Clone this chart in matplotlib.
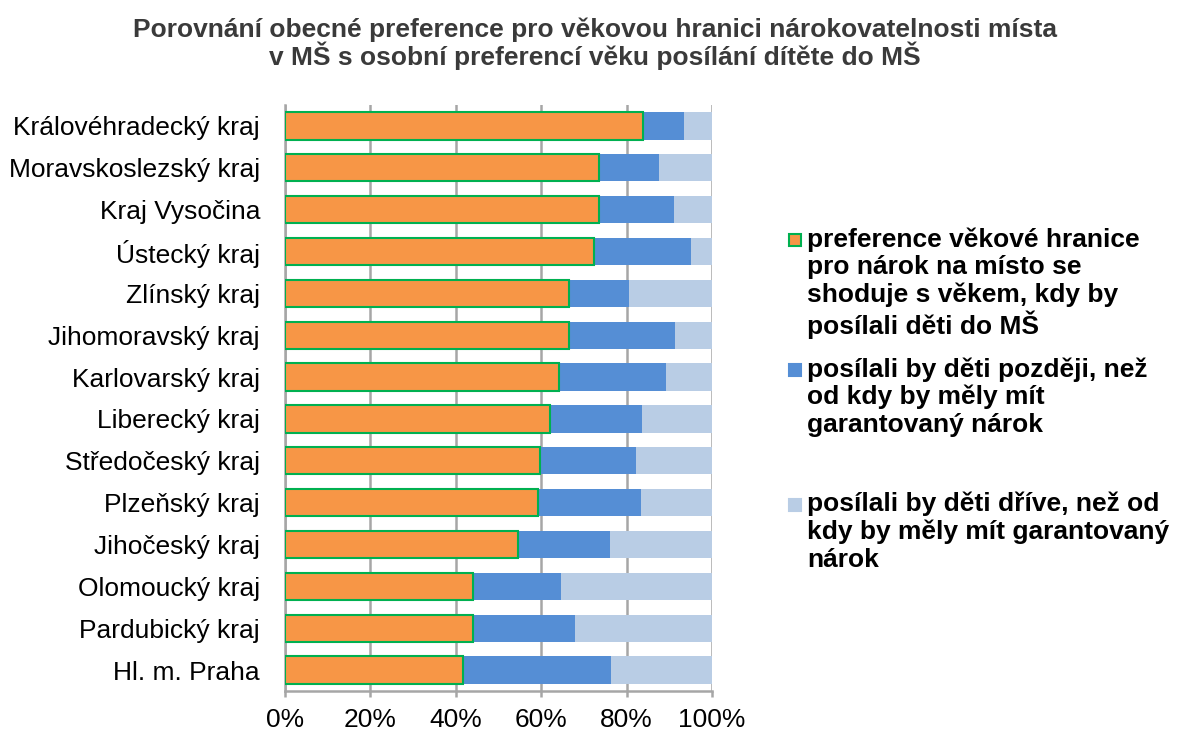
import matplotlib
matplotlib.use("Agg")
import matplotlib.pyplot as plt
from matplotlib.patches import Rectangle

plt.rcParams['font.family'] = ['Liberation Sans', 'DejaVu Sans']

regions = ["Královéhradecký kraj", "Moravskoslezský kraj", "Kraj Vysočina", "Ústecký kraj",
           "Zlínský kraj", "Jihomoravský kraj", "Karlovarský kraj", "Liberecký kraj",
           "Středočeský kraj", "Plzeňský kraj", "Jihočeský kraj", "Olomoucký kraj",
           "Pardubický kraj", "Hl. m. Praha"]
same = [83.9, 73.6, 73.5, 72.4, 66.6, 66.6, 64.2, 62.1, 59.8, 59.3, 54.6, 44.0, 44.0, 41.8]
later = [9.6, 14.1, 17.6, 22.6, 13.9, 24.7, 25.0, 21.6, 22.3, 24.0, 21.4, 20.6, 23.8, 34.5]
earlier = [100 - a - b for a, b in zip(same, later)]

series_labels = [
    "preference věkové hranice\npro nárok na místo se\nshoduje s věkem, kdy by\nposílali děti do MŠ",
    "posílali by děti později, než\nod kdy by měly mít\ngarantovaný nárok",
    "posílali by děti dříve, než od\nkdy by měly mít garantovaný\nnárok",
]
xticks = [0, 20, 40, 60, 80, 100]
xtick_labels = ["0%", "20%", "40%", "60%", "80%", "100%"]
title = "Porovnání obecné preference pro věkovou hranici nárokovatelnosti místa\nv MŠ s osobní preferencí věku posílání dítěte do MŠ"

c_orange = "#F79646"
c_blue = "#558ED5"
c_light = "#B9CDE5"
c_green = "#00B050"
c_grid = "#A6A6A6"

W, H = 1178, 736
fig = plt.figure(figsize=(W / 100, H / 100), dpi=100)
ax = fig.add_axes([285 / W, 1 - 691 / H, (712 - 285) / W, (691 - 105) / H])

y = list(range(len(regions)))
h = 0.65
ax.barh(y, same, height=h, color=c_orange, edgecolor=c_green, linewidth=1.5, zorder=3)
ax.barh(y, later, left=same, height=h, color=c_blue, edgecolor='none', zorder=2)
left3 = [a + b for a, b in zip(same, later)]
ax.barh(y, earlier, left=left3, height=h, color=c_light, edgecolor='none', zorder=2)

ax.set_xlim(0, 100)
ax.set_ylim(len(regions) - 0.5, -0.5)
ax.set_yticks(y)
ax.set_yticklabels(regions, fontsize=19)
ax.set_xticks(xticks)
ax.set_xticklabels(xtick_labels, fontsize=19)
ax.xaxis.grid(True, color=c_grid, linewidth=1.8, zorder=0)
ax.set_axisbelow(True)
for s in ['top', 'right']:
    ax.spines[s].set_visible(False)
for s in ['left', 'bottom']:
    ax.spines[s].set_color(c_grid)
    ax.spines[s].set_linewidth(1.8)
ax.tick_params(axis='y', length=0, pad=18)
ax.tick_params(axis='x', length=4, color=c_grid, width=1.8, pad=8)

fig.text(595 / W, 1 - 44 / H, title, ha='center', va='center', fontsize=19,
         fontweight='bold', color='#3a3a3a', linespacing=1.0)

# legend
colors = [c_orange, c_blue, c_light]
edges = [c_green, c_blue, c_light]
centers = [240, 370, 505]
for lab, col, ed, c in zip(series_labels, colors, edges, centers):
    fig.patches.append(Rectangle((789 / W, 1 - (c + 6) / H), 12 / W, 12 / H,
                                 transform=fig.transFigure, facecolor=col,
                                 edgecolor=ed, linewidth=1.5))
    fig.text(807 / W, 1 - (c - 13) / H, lab, ha='left', va='top', fontsize=19,
             fontweight='bold', color='black', linespacing=1.17)

fig.savefig("out.png", dpi=100)
